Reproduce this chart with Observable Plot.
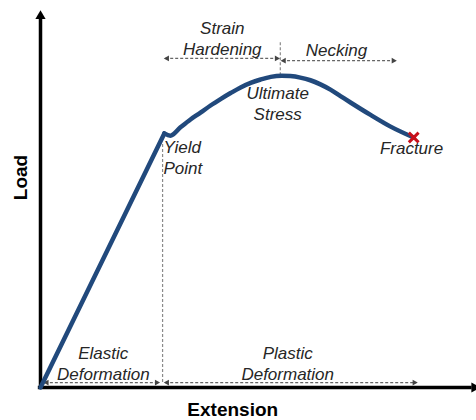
<!DOCTYPE html>
<html><head><meta charset="utf-8">
<script src="https://cdn.jsdelivr.net/npm/d3@7"></script>
<script src="https://cdn.jsdelivr.net/npm/@observablehq/plot@0.6"></script>
<style>body{margin:0;background:#fff}</style>
</head><body><div id="chart"></div>
<script>
// Load–extension curve (arbitrary units, 0–10)
const extension = [0, 2.84, 2.98, 3.21, 3.44, 3.67, 3.90, 4.13, 4.36, 4.59, 4.82, 5.05, 5.28, 5.53, 5.73, 5.96, 6.19, 6.42, 6.65, 6.88, 7.11, 7.57, 8.03, 8.56];
const load      = [0, 6.74, 6.68, 6.90, 7.11, 7.29, 7.48, 7.65, 7.81, 7.96, 8.08, 8.17, 8.24, 8.27, 8.26, 8.22, 8.15, 8.04, 7.90, 7.73, 7.56, 7.23, 6.92, 6.63];
const yieldIndex = 1;
const ultimateIndex = 13;

// Phase intervals (double-headed dashed arrows)
const phaseNames = ["Strain\nHardening", "Necking", "Elastic\nDeformation", "Plastic\nDeformation"];
const phaseStart = [2.86, 5.54, 0.10, 2.86];
const phaseEnd   = [5.46, 8.14, 2.71, 8.62];
const phaseLevel = [8.73, 8.67, 0.13, 0.13];
const phaseTextX = [4.17, 6.79, 1.44, 5.67];
const phaseTextY = [9.27, 8.97, 0.66, 0.65];

// Point annotations
const pointNames = ["Yield\nPoint", "Ultimate\nStress", "Fracture"];
const pointTextX = [2.82, 5.44, 8.51];
const pointTextY = [6.13, 7.55, 6.37];
const pointAnchor = ["start", "middle", "middle"];

// Axis titles
const xTitle = "Extension";
const yTitle = "Load";

const curve = extension.map((x, i) => ({x, y: load[i]}));
const elastic = curve.slice(0, yieldIndex + 1);
const plastic = curve.slice(yieldIndex);
const phases = phaseNames.map((name, i) => ({name, x1: phaseStart[i], x2: phaseEnd[i], y: phaseLevel[i], tx: phaseTextX[i], ty: phaseTextY[i]}));
const points = pointNames.map((name, i) => ({name, x: pointTextX[i], y: pointTextY[i], anchor: pointAnchor[i]}));
const fracture = curve[curve.length - 1];
const ultimate = curve[ultimateIndex];

const textStyle = {fontSize: 17, fontStyle: "italic", fill: "#262626", lineHeight: 1.24, fontFamily: "Liberation Sans, Arial, sans-serif"};

const chart = Plot.plot({
  width: 476, height: 420,
  marginLeft: 40, marginRight: 0, marginTop: 10, marginBottom: 33,
  x: {domain: [0, 10], axis: null},
  y: {domain: [0, 10], axis: null},
  style: {fontFamily: "Liberation Sans, Arial, sans-serif", background: "#fff"},
  marks: [
    // guide lines
    Plot.ruleX([elastic[yieldIndex].x - 0.04], {y1: 0.13, y2: 6.5, stroke: "#8a8a8a", strokeWidth: 1.2, strokeDasharray: "3,2"}),
    Plot.ruleX([ultimate.x - 0.03], {y1: ultimate.y, y2: 9.2, stroke: "#8a8a8a", strokeWidth: 1.2, strokeDasharray: "3,2"}),
    // phase arrows
    Plot.link(phases, {x1: "x1", x2: "x2", y1: "y", y2: "y", stroke: "#666", strokeWidth: 1.3, strokeDasharray: "3,2"}),
    Plot.dot(phases, {x: "x1", y: "y", symbol: "triangle", r: 2.2, fill: "#444", stroke: null, rotate: -90, dx: 2}),
    Plot.dot(phases, {x: "x2", y: "y", symbol: "triangle", r: 2.2, fill: "#444", stroke: null, rotate: 90, dx: -2}),
    // axes
    Plot.ruleY([0], {x1: -0.05, x2: 9.9, stroke: "#000", strokeWidth: 3.5}),
    Plot.ruleX([0], {y1: -0.02, y2: 9.8, stroke: "#000", strokeWidth: 3.5}),
    Plot.dot([{x: 0, y: 9.85}], {x: "x", y: "y", symbol: "triangle", r: 3.8, fill: "#000", stroke: null}),
    Plot.dot([{x: 9.95, y: 0}], {x: "x", y: "y", symbol: "triangle", r: 3.8, fill: "#000", stroke: null, rotate: 90}),
    // curve
    Plot.line(elastic, {x: "x", y: "y", stroke: "#21497c", strokeWidth: 4.5, strokeLinecap: "round"}),
    Plot.line(plastic, {x: "x", y: "y", stroke: "#21497c", strokeWidth: 4.5, curve: "monotone-x", strokeLinejoin: "round", strokeLinecap: "round"}),
    Plot.dot([fracture], {x: "x", y: "y", symbol: "times", r: 4.5, stroke: "#c8101a", strokeWidth: 3}),
    // labels
    Plot.text(phases, {x: "tx", y: "ty", text: "name", ...textStyle}),
    Plot.text(points, {x: "x", y: "y", text: "name", textAnchor: "start", filter: d => d.anchor === "start", ...textStyle}),
    Plot.text(points, {x: "x", y: "y", text: "name", filter: d => d.anchor === "middle", ...textStyle}),
    Plot.text([xTitle], {x: 4.41, y: -0.59, text: d => d, fontSize: 19, fontWeight: "bold", fill: "#000"}),
    Plot.text([yTitle], {x: -0.46, y: 5.57, text: d => d, rotate: -90, fontSize: 19, fontWeight: "bold", fill: "#000"})
  ]
});
document.getElementById("chart").append(chart);
</script>
</body></html>
